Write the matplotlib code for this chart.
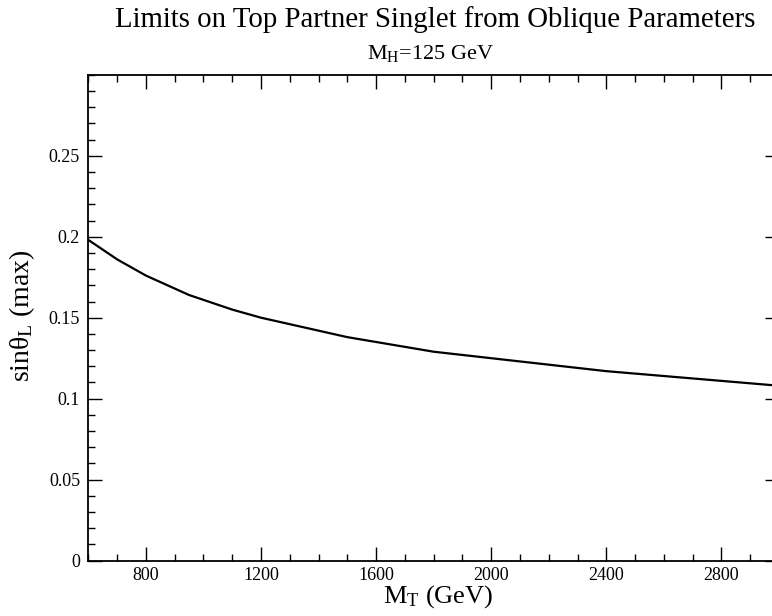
import matplotlib
matplotlib.use("Agg")
import matplotlib.pyplot as plt
from matplotlib.ticker import MultipleLocator

plt.rcParams['font.family'] = ['Liberation Serif', 'DejaVu Serif']
plt.rcParams['mathtext.fontset'] = 'custom'
plt.rcParams['mathtext.rm'] = 'Liberation Serif'
plt.rcParams['mathtext.it'] = 'Liberation Serif:italic'

# data
m_top = [600, 650, 700, 750, 800, 850, 900, 950, 1000, 1100, 1200, 1300,
         1400, 1500, 1600, 1700, 1800, 1900, 2000, 2200, 2400, 2600, 2800, 3000]
sin_max = [0.198, 0.192, 0.186, 0.181, 0.176, 0.172, 0.168, 0.164, 0.161,
           0.155, 0.150, 0.146, 0.142, 0.138, 0.135, 0.132, 0.129, 0.127,
           0.125, 0.121, 0.117, 0.114, 0.111, 0.108]

x_ticks = [800, 1200, 1600, 2000, 2400, 2800]
x_tick_labels = ['800', '1200', '1600', '2000', '2400', '2800']
y_ticks = [0, 0.05, 0.1, 0.15, 0.2, 0.25]
y_tick_labels = ['0', '0.05', '0.1', '0.15', '0.2', '0.25']

W, H = 772, 616
fig = plt.figure(figsize=(W / 100, H / 100), dpi=100)
ax = fig.add_axes([0.1145, 0.0898, 0.8945, 0.7889])

ax.plot(m_top, sin_max, color='black', lw=1.6, solid_joinstyle='round')
ax.set_xlim(600, 3000)
ax.set_ylim(0, 0.3)

ax.set_xticks(x_ticks)
ax.set_xticklabels(x_tick_labels)
ax.set_yticks(y_ticks)
ax.set_yticklabels(y_tick_labels)
ax.xaxis.set_minor_locator(MultipleLocator(100))
ax.yaxis.set_minor_locator(MultipleLocator(0.01))

ax.tick_params(which='both', direction='in', top=True, right=True,
               labelsize=13, width=1.0, color='black')
ax.tick_params(which='major', length=10)
ax.tick_params(which='minor', length=5)
ax.tick_params(axis='x', pad=4.5)
ax.tick_params(axis='y', pad=6)
for s in ax.spines.values():
    s.set_linewidth(1.3)

ax.set_xlabel(r'$\mathrm{M_T}$ (GeV)', fontsize=19)
ax.set_ylabel(r'$\mathrm{sin\theta_L}$ (max)', fontsize=20)
# place axis labels as in the reference (pixel positions converted)
fig.canvas.draw()
inv = ax.transAxes.inverted()
fx, fy = inv.transform((438, H - 603))
ax.xaxis.set_label_coords(fx, fy)
ax.xaxis.label.set_va('baseline')
fx2, fy2 = inv.transform((22, H - 316))
ax.yaxis.set_label_coords(fx2, fy2)
ax.yaxis.label.set_va('center')

fig.text(435.5 / W, 1 - 20 / H,
         'Limits on Top Partner Singlet from Oblique Parameters',
         ha='center', va='center', fontsize=20.8)
fig.text(430 / W, 1 - 54 / H, r'$\mathrm{M_H}$=125 GeV', ha='center',
         va='center', fontsize=16)

fig.savefig('out.png', dpi=100)
